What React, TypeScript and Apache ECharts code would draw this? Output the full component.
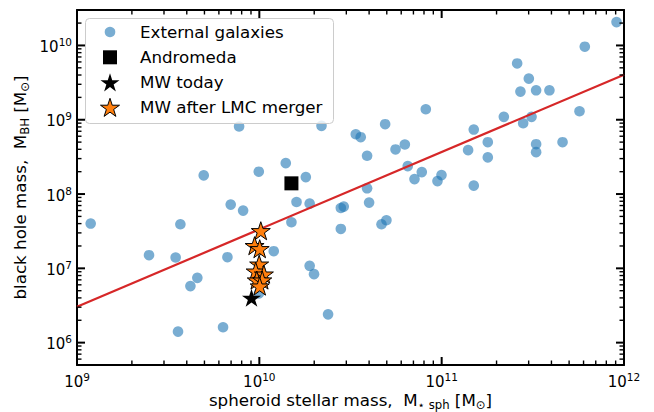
import React, { useEffect, useRef } from 'react';
import * as echarts from 'echarts';

// ---- data (log10 of masses in solar masses) ----
const galaxyLogMstar = [
  9.075, 9.695, 9.567, 9.395, 9.541, 9.660, 9.622, 9.554, 9.889, 9.997,
  10.145, 10.255, 10.204, 10.276, 10.176, 9.843, 9.911, 9.825, 10.079, 10.276,
  10.300, 10.377, 9.801, 9.998, 10.341, 10.529, 10.556, 10.690, 10.747, 10.591,
  10.591, 10.602, 10.447, 10.463, 10.447, 10.670, 10.697, 10.913, 10.798, 10.814,
  10.891, 10.851, 10.999, 10.977, 11.176, 11.145, 11.176, 11.253, 11.253, 11.341,
  11.414, 11.478, 11.432, 11.518, 11.591, 11.447, 11.493, 11.518, 11.518, 11.663,
  11.756, 11.785, 11.959,
];
const galaxyLogMbh = [
  7.603, 8.251, 7.593, 7.177, 7.146, 6.872, 6.761, 6.148, 8.909, 8.301,
  8.416, 8.228, 7.893, 7.871, 7.620, 7.858, 7.777, 7.150, 7.231, 7.034,
  6.922, 6.381, 6.207, 6.663, 8.918, 8.805, 8.765, 8.940, 8.600, 8.515,
  8.077, 7.885, 7.812, 7.831, 7.530, 7.593, 7.647, 9.141, 8.667, 8.376,
  8.295, 8.201, 8.255, 8.174, 8.113, 8.591, 8.868, 8.698, 8.493, 9.039,
  9.758, 9.553, 9.379, 9.396, 9.396, 8.953, 9.039, 8.671, 8.564, 8.698,
  9.114, 9.983, 10.314,
];
const andromedaLogMstar = [10.176];
const andromedaLogMbh = [8.144];
const mwTodayLogMstar = [9.957];
const mwTodayLogMbh = [6.604];
const mwLmcLogMstar = [10.008, 9.974, 10.002, 9.999, 9.980, 10.025, 9.986, 10.016, 10.002];
const mwLmcLogMbh = [7.506, 7.305, 7.264, 7.056, 6.962, 6.922, 6.842, 6.842, 6.761];
const fitLogMstar = [9, 12];
const fitLogMbh = [6.483, 9.607];

const xMajor = [9, 10, 11, 12];
const yMajor = [6, 7, 8, 9, 10];
const xMin = 9, xMax = 12;
const yMin = Math.log10(5e5), yMax = Math.log10(3e10);

const legendLabels = ['External galaxies', 'Andromeda', 'MW today', 'MW after LMC merger'];

// ---- helpers ----
function minorTicks(lo: number, hi: number): number[] {
  const out: number[] = [];
  for (let n = Math.floor(lo); n <= Math.ceil(hi); n++) {
    for (let k = 2; k <= 9; k++) {
      const v = n + Math.log10(k);
      if (v > lo + 1e-6 && v < hi - 1e-6) out.push(v);
    }
  }
  return out;
}
function starPoints(cx: number, cy: number, R: number): number[][] {
  const pts: number[][] = [];
  for (let i = 0; i < 10; i++) {
    const a = -Math.PI / 2 + (i * Math.PI) / 5;
    const r = i % 2 === 0 ? R : R * 0.381966;
    pts.push([cx + r * Math.cos(a), cy + r * Math.sin(a)]);
  }
  return pts;
}
const starPath =
  'path://' +
  starPoints(0, 0, 100)
    .map((p, i) => (i ? 'L' : 'M') + p[0].toFixed(2) + ' ' + p[1].toFixed(2))
    .join(' ') +
  ' Z';

const FF = "'DejaVu Sans', sans-serif";
const BLUE = 'rgba(31,119,180,0.6)';
const ORANGE = '#ff7f0e';
const RED = '#d62728';

const tickRich = {
  b: { fontSize: 15, fontFamily: FF, color: '#000', lineHeight: 18, verticalAlign: 'bottom' },
  s: { fontSize: 10.5, fontFamily: FF, color: '#000', lineHeight: 7, verticalAlign: 'top' },
};
const nameRich = {
  n: { fontSize: 16.7, fontFamily: FF, color: '#000', lineHeight: 20, verticalAlign: 'top' },
  sub: { fontSize: 11.7, fontFamily: FF, color: '#000', lineHeight: 10, verticalAlign: 'bottom' },
};
const fmt = (v: number) => `{b|10}{s|${Math.round(v)}}`;

function axisSet(kind: 'x' | 'y') {
  const isX = kind === 'x';
  const lo = isX ? xMin : yMin;
  const hi = isX ? xMax : yMax;
  const major = isX ? xMajor : yMajor;
  const base = { type: 'value', min: lo, max: hi, splitLine: { show: false }, axisTick: { show: false } };
  const line = { show: true, onZero: false, lineStyle: { color: '#000', width: 2 } };
  return [
    {
      ...base,
      position: isX ? 'bottom' : 'left',
      axisLine: line,
      axisLabel: {
        show: true,
        customValues: major,
        margin: isX ? 6 : 5,
        formatter: fmt,
        rich: tickRich,
      },
      name: isX
        ? '{n|spheroid stellar mass,  M}{sub|⋆ sph}{n| [M}{sub|⊙}{n|]}'
        : '{n|black hole mass,  M}{sub|BH}{n| [M}{sub|⊙}{n|]}',
      nameLocation: 'middle',
      nameGap: isX ? 26 : 46,
      nameMoveOverlap: false,
      nameTextStyle: { rich: nameRich },
    },
    { ...base, position: isX ? 'top' : 'right', axisLine: line, axisLabel: { show: false } },
  ];
}

const xMinor = minorTicks(xMin, xMax);
const yMinor = minorTicks(yMin, yMax);
const MAJ_LEN = 8, MIN_LEN = 4.5, MAJ_W = 2, MIN_W = 1.4;

function legendGraphics() {
  const left = 85, top = 18, w = 248, h = 105;
  const mx = 110, tx = 140;
  const ys = [32, 57.3, 82.3, 107.3];
  const els: any[] = [
    {
      type: 'rect',
      shape: { x: left + 0.5, y: top + 0.5, width: w, height: h, r: 4 },
      style: { fill: 'rgba(255,255,255,0.8)', stroke: '#cccccc', lineWidth: 1 },
      z: 100,
    },
    { type: 'circle', shape: { cx: mx, cy: ys[0], r: 5.3 }, style: { fill: BLUE }, z: 101 },
    { type: 'rect', shape: { x: mx - 7, y: ys[1] - 7, width: 14, height: 14 }, style: { fill: '#000' }, z: 101 },
    { type: 'polygon', shape: { points: starPoints(mx, ys[2] + 1, 10) }, style: { fill: '#000' }, z: 101 },
    {
      type: 'polygon',
      shape: { points: starPoints(mx, ys[3] + 1, 10) },
      style: { fill: ORANGE, stroke: '#000', lineWidth: 1 },
      z: 101,
    },
  ];
  legendLabels.forEach((t, i) => {
    els.push({
      type: 'text',
      x: tx,
      y: ys[i],
      style: { text: t, fontSize: 16.7, fontFamily: FF, fill: '#000', align: 'left', verticalAlign: 'middle' },
      z: 101,
    });
  });
  return els;
}

// inward ticks on all four sides, positioned with the chart's own axis scales
function tickGraphics(chart: any) {
  const toPx = (axis: 'x' | 'y', v: number) => {
    const r = chart.convertToPixel(axis === 'x' ? { xAxisIndex: 0 } : { yAxisIndex: 0 }, v);
    return Array.isArray(r) ? r[axis === 'x' ? 0 : 1] : r;
  };
  const L = toPx('x', xMin), R = toPx('x', xMax), B = toPx('y', yMin), T = toPx('y', yMax);
  const els: any[] = [];
  const rect = (x: number, y: number, width: number, height: number) =>
    els.push({ type: 'rect', shape: { x, y, width, height }, style: { fill: '#000' }, z: 50, silent: true });
  const xs = [...xMajor.map((v) => [v, 1]), ...xMinor.map((v) => [v, 0])];
  xs.forEach(([v, m]) => {
    const x = toPx('x', v), len = m ? MAJ_LEN : MIN_LEN, w = m ? MAJ_W : MIN_W;
    rect(x - w / 2, B - len, w, len);
    rect(x - w / 2, T, w, len);
  });
  const ys = [...yMajor.map((v) => [v, 1]), ...yMinor.map((v) => [v, 0])];
  ys.forEach(([v, m]) => {
    const y = toPx('y', v), len = m ? MAJ_LEN : MIN_LEN, w = m ? MAJ_W : MIN_W;
    rect(L, y - w / 2, len, w);
    rect(R - len, y - w / 2, len, w);
  });
  return els;
}

export default function App() {
  const ref = useRef<HTMLDivElement>(null);
  useEffect(() => {
    if (!ref.current) return;
    const chart = echarts.init(ref.current, undefined, { renderer: 'svg' });
    const pairs = (xs: number[], ys: number[]) => xs.map((x, i) => [x, ys[i]]);
    chart.setOption({
      animation: false,
      backgroundColor: '#fff',
      grid: { left: 77, right: 30, top: 10, bottom: 47, containLabel: false, outerBoundsMode: 'none' },
      xAxis: axisSet('x'),
      yAxis: axisSet('y'),
      graphic: legendGraphics(),
      series: [
        {
          name: legendLabels[0],
          type: 'scatter',
          data: pairs(galaxyLogMstar, galaxyLogMbh),
          symbol: 'circle',
          symbolSize: 10.6,
          itemStyle: { color: BLUE, opacity: 1 },
          z: 2,
        },
        {
          type: 'line',
          data: pairs(fitLogMstar, fitLogMbh),
          showSymbol: false,
          symbol: 'none',
          lineStyle: { color: RED, width: 2.2 },
          z: 3,
        },
        {
          name: legendLabels[1],
          type: 'scatter',
          data: pairs(andromedaLogMstar, andromedaLogMbh),
          symbol: 'rect',
          symbolSize: 14,
          itemStyle: { color: '#000', opacity: 1 },
          z: 4,
        },
        {
          name: legendLabels[3],
          type: 'scatter',
          data: pairs(mwLmcLogMstar, mwLmcLogMbh),
          symbol: starPath,
          symbolKeepAspect: true,
          symbolSize: 19,
          itemStyle: { color: ORANGE, borderColor: '#000', borderWidth: 1, opacity: 1 },
          z: 5,
        },
        {
          name: legendLabels[2],
          type: 'scatter',
          data: pairs(mwTodayLogMstar, mwTodayLogMbh),
          symbol: starPath,
          symbolKeepAspect: true,
          symbolSize: 19,
          itemStyle: { color: '#000', opacity: 1 },
          z: 6,
        },
      ],
    });
    chart.setOption({ graphic: [...legendGraphics(), ...tickGraphics(chart)] }, { replaceMerge: ['graphic'] });
    return () => chart.dispose();
  }, []);
  return <div ref={ref} style={{ position: 'fixed', left: 0, top: 0, width: 654, height: 412 }} />;
}
